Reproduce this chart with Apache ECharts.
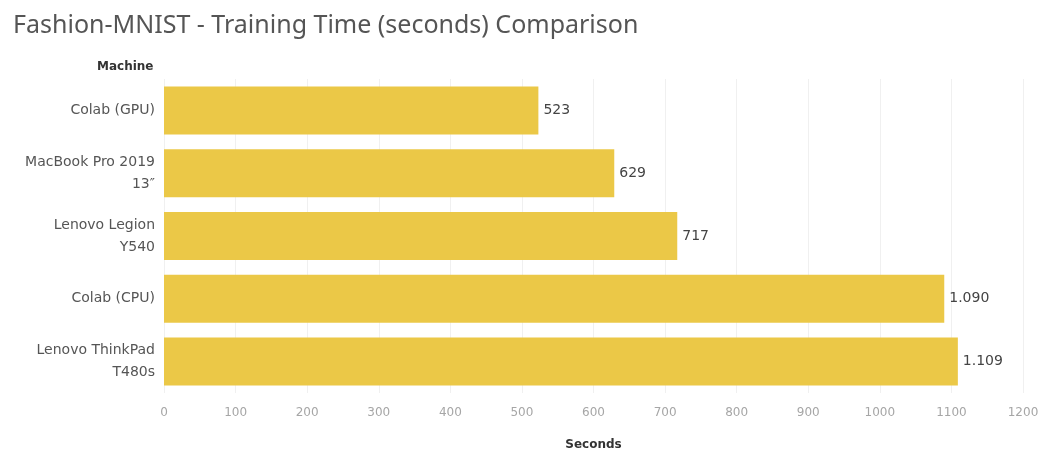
<!DOCTYPE html>
<html><head><meta charset="utf-8">
<script src="https://cdn.jsdelivr.net/npm/echarts@6/dist/echarts.min.js"></script>
<style>html,body{margin:0;padding:0;background:#fff}#c{width:1044px;height:456px}</style>
</head><body><div id="c"></div>
<script>
const categories = ["Colab (GPU)", "MacBook Pro 2019\n13\u2033", "Lenovo Legion\nY540", "Colab (CPU)", "Lenovo ThinkPad\nT480s"];
const seconds = [523, 629, 717, 1090, 1109];
const xTicks = [0, 100, 200, 300, 400, 500, 600, 700, 800, 900, 1000, 1100, 1200];

function fmt(v) {
  return String(v).replace(/\B(?=(\d{3})+(?!\d))/g, '.');
}
const FONT = 'DejaVu Sans';
const chart = echarts.init(document.getElementById('c'));
chart.setOption({
  animation: false,
  backgroundColor: '#fff',
  title: {
    text: 'Fashion-MNIST - Training Time (seconds) Comparison',
    left: 8, top: 8,
    textStyle: { fontFamily: 'Noto Sans', fontSize: 25, fontWeight: 'normal', color: '#555' }
  },
  graphic: [{
    type: 'text', left: 97, top: 61,
    style: { text: 'Machine', fontFamily: FONT, fontSize: 12, fontWeight: 'bold', fill: '#333' }
  }],
  grid: { left: 164, right: 21, top: 79, bottom: 58, containLabel: false },
  xAxis: {
    type: 'value', min: xTicks[0], max: xTicks[xTicks.length - 1], interval: 100,
    name: 'Seconds', nameLocation: 'middle', nameGap: 46,
    nameTextStyle: { fontFamily: FONT, fontSize: 12, fontWeight: 'bold', color: '#333' },
    axisLine: { show: false },
    axisTick: { show: false },
    axisLabel: { fontFamily: FONT, fontSize: 12, color: '#a6a6a6', margin: 14, formatter: v => String(v) },
    splitLine: { show: true, lineStyle: { color: '#f0f0f0', width: 1 } }
  },
  yAxis: {
    type: 'category', data: categories, inverse: true,
    axisLine: { show: false },
    axisTick: { show: false },
    axisLabel: { fontFamily: FONT, fontSize: 14, color: '#555', margin: 9, align: 'right', lineHeight: 22 }
  },
  series: [{
    type: 'bar', data: seconds, barWidth: 48,
    itemStyle: { color: '#EBC847' },
    label: {
      show: true, position: 'right', distance: 5,
      fontFamily: FONT, fontSize: 14, color: '#444',
      formatter: p => fmt(p.value)
    }
  }]
});
</script></body></html>
